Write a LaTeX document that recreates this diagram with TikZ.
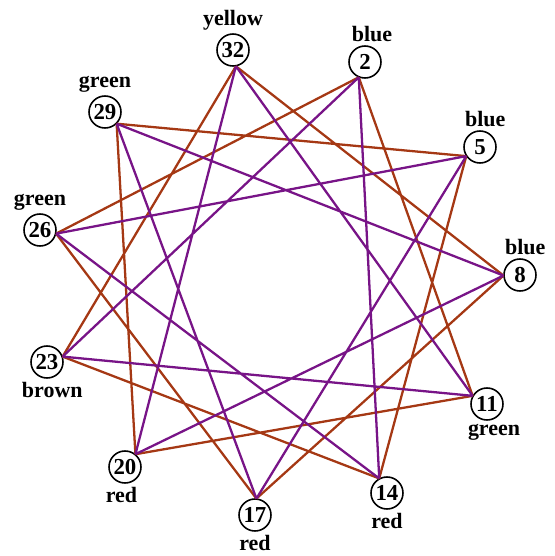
\documentclass[tikz,border=0pt]{standalone}
\usepackage{fontspec}
\setmainfont{Liberation Serif}
\usetikzlibrary{calc}
\definecolor{edgered}{RGB}{165,56,20}
\definecolor{edgepurple}{RGB}{120,20,135}

\begin{document}
\begin{tikzpicture}[x=0.02cm, y=-0.02cm,
    vertex/.style={circle, draw, line width=0.9pt, fill=white, minimum size=0.64cm,
                   inner sep=0pt, font=\fontsize{13}{15}\selectfont\bfseries},
    every label/.style={font=\fontsize{12.5}{14}\selectfont\bfseries, inner sep=1.5pt},
    redline/.style={edgered, line width=1.3pt},
    purpleline/.style={edgepurple, line width=1.3pt}]
    \useasboundingbox (0,0) rectangle (555,556);

    % Vertices round the ring
    \node[vertex, label=above:yellow] (n32) at (233,50) {32};
    \node[vertex, label={[xshift=4pt]above:blue}] (n2) at (365,62) {2};
    \node[vertex, label={[xshift=3pt]above:blue}] (n5) at (480,147) {5};
    \node[vertex, label={[xshift=3pt]above:blue}] (n8) at (520,275) {8};
    \node[vertex, label={[xshift=4pt]below:green}] (n11) at (487,404) {11};
    \node[vertex, label=below:red] (n14) at (387,493) {14};
    \node[vertex, label=below:red] (n17) at (255,515) {17};
    \node[vertex, label={[xshift=-2pt]below:red}] (n20) at (125,467) {20};
    \node[vertex, label={[xshift=3pt]below:brown}] (n23) at (47,362) {23};
    \node[vertex, label=above:green] (n26) at (40,230) {26};
    \node[vertex, label=above:green] (n29) at (105,112) {29};

    % Edge ends on the inner side of each circle
    \coordinate (ctr) at (275,283);
    \foreach \n in {32,2,5,8,11,14,17,20,23,26,29}
        \coordinate (p\n) at ($(n\n)!0.33cm!(ctr)$);

    % Red star: three steps apart
    \draw[redline] (p32) -- (p8)  (p2) -- (p11)  (p5) -- (p14)  (p8) -- (p17)
        (p11) -- (p20)  (p14) -- (p23)  (p17) -- (p26)  (p20) -- (p29)
        (p23) -- (p32)  (p26) -- (p2)  (p29) -- (p5);

    % Purple star: four steps apart
    \draw[purpleline] (p32) -- (p11)  (p2) -- (p14)  (p5) -- (p17)  (p8) -- (p20)
        (p11) -- (p23)  (p14) -- (p26)  (p17) -- (p29)  (p20) -- (p32)
        (p23) -- (p2)  (p26) -- (p5)  (p29) -- (p8);
\end{tikzpicture}
\end{document}
